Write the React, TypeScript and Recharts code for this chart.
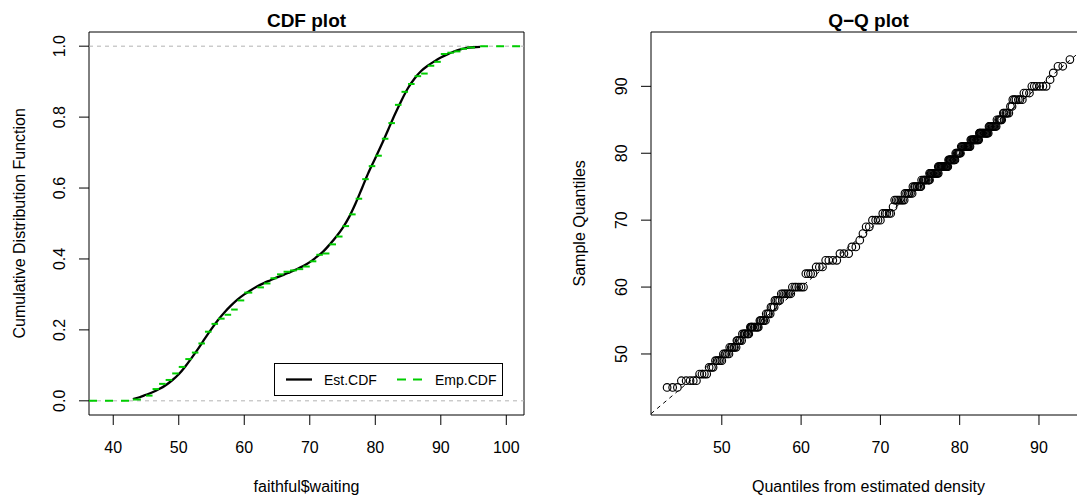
import React from 'react';
import {
  ComposedChart,
  ScatterChart,
  Line,
  Scatter,
  XAxis,
  YAxis,
  ReferenceLine,
  ReferenceArea,
} from 'recharts';

const FONT = '"Liberation Sans", Arial, Helvetica, sans-serif';

// faithful$waiting: distinct waiting times and how many eruptions had each
const waitLevels = [43, 45, 46, 47, 48, 49, 50, 51, 52, 53, 54, 55, 56, 57, 58, 59, 60, 62, 63, 64, 65, 66, 67, 68, 69, 70, 71, 72, 73, 74, 75, 76, 77, 78, 79, 80, 81, 82, 83, 84, 85, 86, 87, 88, 89, 90, 91, 92, 93, 94, 96];
const waitCounts = [1, 3, 5, 4, 3, 5, 5, 6, 5, 7, 9, 6, 4, 3, 4, 7, 6, 4, 3, 4, 3, 2, 1, 1, 2, 4, 5, 1, 7, 6, 8, 9, 12, 15, 10, 8, 13, 12, 14, 10, 6, 6, 2, 6, 3, 6, 1, 1, 2, 1, 1];

// estimated CDF
const estX = [43, 44, 45, 46, 47, 48, 49, 50, 51, 52, 53, 54, 55, 56, 57, 58, 59, 60, 61, 62, 63, 64, 65, 66, 67, 68, 69, 70, 71, 72, 73, 74, 75, 76, 77, 78, 79, 80, 81, 82, 83, 84, 85, 86, 87, 88, 89, 90, 91, 92, 93, 94, 95, 96];
const estCdf = [0.005, 0.01, 0.017, 0.024, 0.033, 0.044, 0.058, 0.075, 0.097, 0.122, 0.148, 0.176, 0.203, 0.228, 0.25, 0.269, 0.286, 0.3, 0.312, 0.323, 0.332, 0.34, 0.348, 0.355, 0.363, 0.371, 0.38, 0.391, 0.405, 0.42, 0.44, 0.462, 0.487, 0.518, 0.557, 0.601, 0.645, 0.684, 0.724, 0.766, 0.808, 0.847, 0.882, 0.909, 0.93, 0.945, 0.957, 0.968, 0.977, 0.985, 0.991, 0.995, 0.997, 0.998];

// quantiles from the estimated density, one list per waiting level
// (43 and 96 have no finite quantile, so they are not drawn)
const qqTheoretical = [
  [],
  [43.1, 43.8, 44.4],
  [44.9, 45.5, 46.0, 46.4, 46.8],
  [47.2, 47.5, 47.8, 48.1],
  [48.4, 48.7, 48.9],
  [49.2, 49.4, 49.6, 49.8, 50.0],
  [50.2, 50.4, 50.5, 50.7, 50.9],
  [51.0, 51.2, 51.3, 51.5, 51.6, 51.8],
  [51.9, 52.0, 52.2, 52.3, 52.5],
  [52.6, 52.8, 52.9, 53.0, 53.2, 53.3, 53.4],
  [53.6, 53.7, 53.8, 53.9, 54.1, 54.2, 54.4, 54.5, 54.6],
  [54.8, 54.9, 55.0, 55.2, 55.3, 55.5],
  [55.6, 55.8, 55.9, 56.1],
  [56.2, 56.4, 56.6],
  [56.7, 56.9, 57.1, 57.3],
  [57.5, 57.7, 57.9, 58.1, 58.3, 58.5, 58.7],
  [58.9, 59.2, 59.4, 59.7, 60.0, 60.3],
  [60.6, 60.9, 61.2, 61.5],
  [61.9, 62.3, 62.7],
  [63.1, 63.5, 64.0, 64.5],
  [64.9, 65.4, 66.0],
  [66.4, 66.9],
  [67.4],
  [67.8],
  [68.2, 68.6],
  [69.0, 69.4, 69.7, 70.0],
  [70.3, 70.6, 70.8, 71.1, 71.3],
  [71.6],
  [71.8, 72.0, 72.2, 72.4, 72.6, 72.8, 73.0],
  [73.1, 73.3, 73.5, 73.6, 73.8, 74.0],
  [74.1, 74.3, 74.4, 74.6, 74.7, 74.9, 75.0, 75.1],
  [75.2, 75.4, 75.5, 75.6, 75.7, 75.8, 76.0, 76.1, 76.2],
  [76.2, 76.3, 76.4, 76.5, 76.6, 76.7, 76.8, 76.9, 77.0, 77.1, 77.2, 77.3],
  [77.3, 77.4, 77.5, 77.6, 77.7, 77.7, 77.8, 77.9, 78.0, 78.1, 78.2, 78.3, 78.3, 78.4, 78.5],
  [78.6, 78.7, 78.8, 78.8, 78.9, 79.0, 79.1, 79.2, 79.3, 79.4],
  [79.5, 79.6, 79.7, 79.8, 79.9, 79.9, 80.0, 80.1],
  [80.2, 80.3, 80.4, 80.5, 80.6, 80.7, 80.8, 80.9, 81.0, 81.0, 81.1, 81.2, 81.3],
  [81.4, 81.5, 81.6, 81.7, 81.8, 81.8, 81.9, 82.0, 82.1, 82.2, 82.3, 82.4],
  [82.5, 82.5, 82.6, 82.7, 82.8, 82.9, 83.0, 83.1, 83.2, 83.3, 83.4, 83.4, 83.5, 83.6],
  [83.7, 83.8, 83.9, 84.0, 84.1, 84.2, 84.3, 84.4, 84.5, 84.6],
  [84.7, 84.9, 85.0, 85.1, 85.2, 85.3],
  [85.5, 85.6, 85.8, 85.9, 86.0, 86.2],
  [86.4, 86.6],
  [86.7, 86.9, 87.1, 87.4, 87.6, 87.9],
  [88.1, 88.4, 88.8],
  [89.1, 89.4, 89.7, 90.1, 90.5, 90.9],
  [91.4],
  [91.8],
  [92.4, 93.0],
  [93.9],
  [],
];

const cdfTicksX = [40, 50, 60, 70, 80, 90, 100];
const cdfTicksY = [0, 0.2, 0.4, 0.6, 0.8, 1];
const qqTicks = [50, 60, 70, 80, 90];

const CDF_X: [number, number] = [36.3, 102.7];
const CDF_Y: [number, number] = [-0.04, 1.04];
const QQ_X: [number, number] = [41.07, 95.93];
const QQ_Y: [number, number] = [40.88, 98.12];

const GREEN = '#00cd00';

const estData = estX.map((x, i) => ({ x, cdf: estCdf[i] }));

const total = waitCounts.reduce((a, b) => a + b, 0);
let running = 0;
const empSteps = [{ x1: CDF_X[0], x2: waitLevels[0], y: 0 }].concat(
  waitLevels.map((lvl, i) => {
    running += waitCounts[i];
    return { x1: lvl, x2: i + 1 < waitLevels.length ? waitLevels[i + 1] : CDF_X[1], y: running / total };
  })
);

const qqData = waitLevels.flatMap((lvl, i) => qqTheoretical[i].map((q) => ({ q, s: lvl })));

const XTick = ({ x, y, payload }: any) => (
  <text x={x} y={y} textAnchor="middle" fontSize={16} fontFamily={FONT} fill="#000">
    {payload.value}
  </text>
);

const makeYTick = (digits: number) => ({ x, y, payload }: any) => (
  <text
    x={x}
    y={y}
    transform={`rotate(-90 ${x} ${y})`}
    textAnchor="middle"
    fontSize={16}
    fontFamily={FONT}
    fill="#000"
  >
    {payload.value.toFixed(digits)}
  </text>
);

const Circle = (props: any) => (
  <circle cx={props.cx} cy={props.cy} r={3.8} fill="none" stroke="#000" strokeWidth={1.15} />
);

export default function App() {
  return (
    <div
      style={{
        position: 'absolute',
        left: 0,
        top: 0,
        width: 1077,
        height: 497,
        overflow: 'hidden',
        background: '#fff',
      }}
    >
      <div style={{ position: 'absolute', left: 0, top: 0 }}>
        <ComposedChart width={560} height={497} data={estData} margin={{ top: 32, right: 36, bottom: 0, left: 0 }}>
          <XAxis
            dataKey="x"
            type="number"
            domain={CDF_X}
            allowDataOverflow
            ticks={cdfTicksX}
            interval={0}
            height={82}
            axisLine={false}
            tickLine={{ stroke: '#000' }}
            tickSize={10}
            tickMargin={28}
            tick={XTick}
          />
          <YAxis
            type="number"
            domain={CDF_Y}
            allowDataOverflow
            ticks={cdfTicksY}
            interval={0}
            width={89}
            axisLine={false}
            tickLine={{ stroke: '#000' }}
            tickSize={10}
            tickMargin={14}
            tick={makeYTick(1)}
          />
          <ReferenceLine y={0} stroke="#b3b3b3" strokeDasharray="4 4" />
          <ReferenceLine y={1} stroke="#b3b3b3" strokeDasharray="4 4" />
          <Line
            dataKey="cdf"
            type="monotone"
            stroke="#000"
            strokeWidth={2.3}
            dot={false}
            activeDot={false}
            isAnimationActive={false}
          />
          {empSteps.map((s, i) => (
            <ReferenceLine
              key={`emp-${i}`}
              segment={[
                { x: s.x1, y: s.y },
                { x: s.x2, y: s.y },
              ]}
              stroke={GREEN}
              strokeWidth={2}
              strokeDasharray="8 8"
              ifOverflow="hidden"
            />
          ))}
          <ReferenceArea
            x1={CDF_X[0]}
            x2={CDF_X[1]}
            y1={CDF_Y[0]}
            y2={CDF_Y[1]}
            fill="none"
            fillOpacity={0}
            stroke="#000"
            strokeWidth={1}
            ifOverflow="extendDomain"
          />
        </ComposedChart>
      </div>

      <div style={{ position: 'absolute', left: 560, top: 0 }}>
        <ScatterChart width={545} height={497} margin={{ top: 32, right: 19, bottom: 0, left: 0 }}>
          <XAxis
            dataKey="q"
            type="number"
            domain={QQ_X}
            allowDataOverflow
            ticks={qqTicks}
            interval={0}
            height={82}
            axisLine={false}
            tickLine={{ stroke: '#000' }}
            tickSize={10}
            tickMargin={28}
            tick={XTick}
          />
          <YAxis
            dataKey="s"
            type="number"
            domain={QQ_Y}
            allowDataOverflow
            ticks={qqTicks}
            interval={0}
            width={91}
            axisLine={false}
            tickLine={{ stroke: '#000' }}
            tickSize={10}
            tickMargin={14}
            tick={makeYTick(0)}
          />
          <ReferenceLine
            segment={[
              { x: QQ_X[0], y: QQ_X[0] },
              { x: QQ_X[1], y: QQ_X[1] },
            ]}
            stroke="#000"
            strokeWidth={1}
            strokeDasharray="4 4"
          />
          <Scatter data={qqData} shape={Circle} isAnimationActive={false} />
          <ReferenceArea
            x1={QQ_X[0]}
            x2={QQ_X[1]}
            y1={QQ_Y[0]}
            y2={QQ_Y[1]}
            fill="none"
            fillOpacity={0}
            stroke="#000"
            strokeWidth={1}
          />
        </ScatterChart>
      </div>

      <svg
        width={1077}
        height={497}
        style={{ position: 'absolute', left: 0, top: 0, pointerEvents: 'none' }}
        fontFamily={FONT}
      >
        <text x={306.5} y={26.5} textAnchor="middle" fontSize={19} fontWeight="bold">
          CDF plot
        </text>
        <text x={868.5} y={26.5} textAnchor="middle" fontSize={19} fontWeight="bold">
          Q−Q plot
        </text>
        <text x={306.5} y={491.5} textAnchor="middle" fontSize={16}>
          faithful$waiting
        </text>
        <text x={868.5} y={491.5} textAnchor="middle" fontSize={16}>
          Quantiles from estimated density
        </text>
        <text x={25} y={223.3} textAnchor="middle" fontSize={16} transform="rotate(-90 25 223.3)">
          Cumulative Distribution Function
        </text>
        <text x={585} y={223.3} textAnchor="middle" fontSize={16} transform="rotate(-90 585 223.3)">
          Sample Quantiles
        </text>

        <g>
          <rect x={274.5} y={363.5} width={228} height={32} fill="#fff" stroke="#000" strokeWidth={1} />
          <line x1={286} y1={379.5} x2={312} y2={379.5} stroke="#000" strokeWidth={2.3} />
          <text x={324} y={384.5} fontSize={14}>
            Est.CDF
          </text>
          <line
            x1={397}
            y1={379.5}
            x2={422}
            y2={379.5}
            stroke={GREEN}
            strokeWidth={2}
            strokeDasharray="9 7"
          />
          <text x={435} y={384.5} fontSize={14}>
            Emp.CDF
          </text>
        </g>
      </svg>
    </div>
  );
}
